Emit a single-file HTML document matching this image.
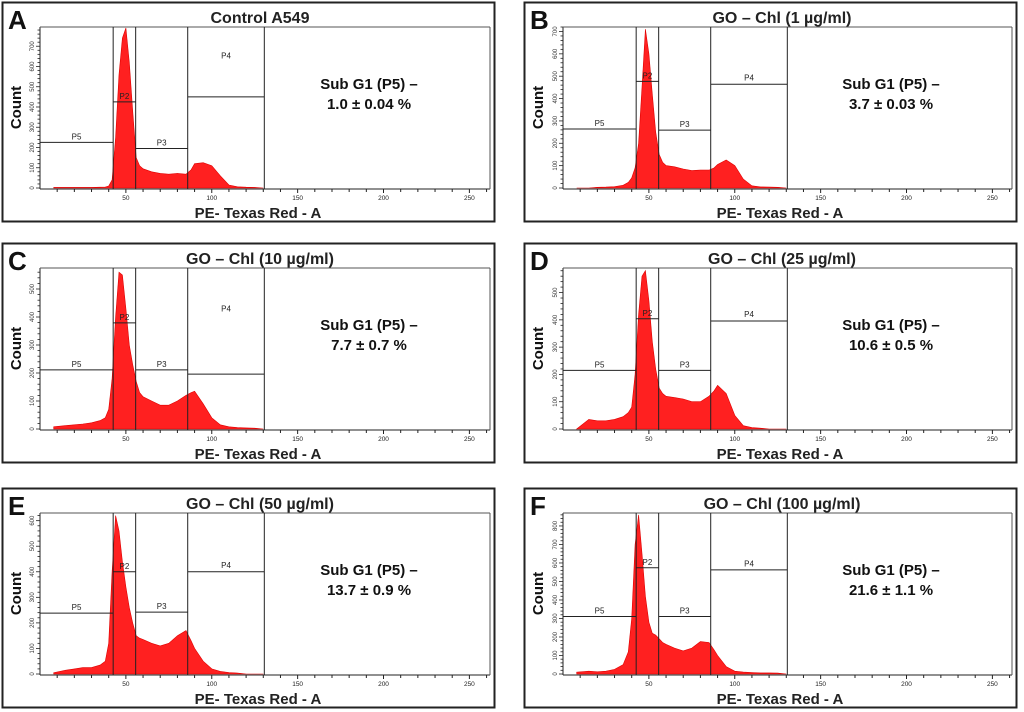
<!DOCTYPE html>
<html><head><meta charset="utf-8">
<style>
html,body{margin:0;padding:0;background:#fff;width:1024px;height:712px;overflow:hidden}
svg{display:block}
text{font-family:"Liberation Sans",Arial,sans-serif}
</style></head>
<body>
<svg id="fig" width="1024" height="712" viewBox="0 0 1024 712"></svg>
<script>
// ---- data ----
const bins = [8,15,20,25,30,35,38,40,42,44,46,48,50,52,54,56,58,60,65,70,75,80,85,88,90,95,100,105,110,115,120,125,130];
const countsA = [3,3,3,3,3,4,5,10,40,250,560,740,790,620,380,150,110,95,80,72,68,72,68,90,120,125,110,60,15,6,4,3,0];
const countsB = [0,0,3,4,6,12,25,45,90,200,450,710,600,420,250,150,115,100,95,85,78,80,80,90,105,125,100,40,10,5,4,3,0];
const countsC = [8,12,15,18,22,30,40,70,180,400,560,550,430,300,230,170,130,115,100,85,85,100,120,130,135,90,40,15,8,5,4,3,0];
const countsD = [0,35,30,30,35,45,60,80,200,420,560,580,470,320,220,150,130,120,115,110,100,100,120,140,160,130,50,12,5,3,0,0,0];
const countsE = [5,15,20,25,25,35,50,120,400,620,560,440,340,260,200,150,140,135,120,110,120,150,170,130,100,50,20,10,6,4,0,0,0];
const countsF = [10,15,12,15,25,50,120,300,700,860,650,420,280,220,210,190,170,160,140,125,140,175,170,130,100,40,15,10,8,6,6,5,0];
const yMaxes = [795,720,575,590,630,870];
const titles = ["Control A549","GO \u2013 Chl (1 \u00b5g/ml)","GO \u2013 Chl (10 \u00b5g/ml)","GO \u2013 Chl (25 \u00b5g/ml)","GO \u2013 Chl (50 \u00b5g/ml)","GO \u2013 Chl (100 \u00b5g/ml)"];
const letters = ["A","B","C","D","E","F"];
const subG1 = ["1.0 \u00b1 0.04 %","3.7 \u00b1 0.03 %","7.7 \u00b1 0.7 %","10.6 \u00b1 0.5 %","13.7 \u00b1 0.9 %","21.6 \u00b1 1.1 %"];
const gateX = [0,42.6,55.7,86,130.6];
const p5Levels = [225,264,211,215,238,311];
const p2Levels = [425,477,379,404,400,574];
const p3Levels = [195,259,211,215,242,311];
const p4Levels = [450,464,196,396,400,563];
const p4LabelCounts = [640,480,420,410,415,580];
const xTickLabels = [50,100,150,200,250];
const allCounts = [countsA,countsB,countsC,countsD,countsE,countsF];

const NS = "http://www.w3.org/2000/svg";
const svg = document.getElementById("fig");
function mk(tag, attrs, parent, txt){
  const e = document.createElementNS(NS, tag);
  for (const k in attrs) e.setAttribute(k, attrs[k]);
  if (txt !== undefined) e.textContent = txt;
  (parent||svg).appendChild(e);
  return e;
}
const panelPos = [[2,2],[524,2],[2,243],[524,243],[2,488],[524,488]];
const PW = 493, PH = 220;

panelPos.forEach((p, i) => {
  const [px, py] = p;
  const g = mk("g", {});
  
  
  const box = mk("rect", {x:px+0.5, y:py+0.5, width:PW-1, height:PH-1, fill:"none", stroke:"#222", "stroke-width":2}, g);
  
  

  const L = px + 38 + (i%2), R = px + 488, T = py + 25, B = py + 186;
  const xs = v => L + v * (450 / 262);
  const ys = v => B - v * ((B - T) / yMaxes[i]);

  // histogram
  const c = allCounts[i];
  let d = "M" + xs(bins[0]) + "," + B;
  bins.forEach((b, k) => { d += " L" + xs(b).toFixed(1) + "," + ys(c[k]).toFixed(1); });
  d += " L" + xs(bins[bins.length-1]) + "," + B + " Z";
  const hist = mk("path", {d:d, fill:"#ff2020", stroke:"#e00000", "stroke-width":0.6}, g);
  
  

  // axes / frame
  mk("line", {x1:L, y1:T, x2:L, y2:B+1, stroke:"#222", "stroke-width":1}, g);
  mk("line", {x1:L, y1:B+1, x2:R, y2:B+1, stroke:"#222", "stroke-width":1}, g);
  mk("line", {x1:R, y1:T, x2:R, y2:B+1, stroke:"#555", "stroke-width":1}, g);
  mk("line", {x1:L, y1:T, x2:R, y2:T, stroke:"#555", "stroke-width":1}, g);
  for (let v = 10; v <= 260; v += 10) {
    const big = v % 50 === 0;
    mk("line", {x1:xs(v), y1:B+1, x2:xs(v), y2:B+(big?5:4), stroke:"#222", "stroke-width":1}, g);
  }
  xTickLabels.forEach(v => {
    const t = mk("text", {x:xs(v), y:B+12, "font-size":6.5, "text-anchor":"middle", fill:"#222"}, g, String(v));
    
    
  });
  for (let v = 0; v <= yMaxes[i]; v += 20) {
    const big = v % 100 === 0;
    mk("line", {x1:L-(big?4:2.5), y1:ys(v), x2:L, y2:ys(v), stroke:"#222", "stroke-width":0.8}, g);
    if (big) {
      const t = mk("text", {x:0, y:0, "font-size":6, "text-anchor":"middle", fill:"#333",
        transform:"translate(" + (L-6) + "," + ys(v) + ") rotate(-90)"}, g, String(v));
      
      
    }
  }

  // gates
  const gs = {stroke:"#222", "stroke-width":1, fill:"none"};
  [1,2,3,4].forEach(k => mk("line", Object.assign({x1:xs(gateX[k]), y1:T, x2:xs(gateX[k]), y2:B+1}, gs), g));
  const lv = [[0,1,p5Levels[i]],[1,2,p2Levels[i]],[2,3,p3Levels[i]],[3,4,p4Levels[i]]];
  lv.forEach(([a,b,l]) => mk("line", Object.assign({x1:xs(gateX[a]), y1:ys(l), x2:xs(gateX[b]), y2:ys(l)}, gs), g));
  const glabels = [["P5",0,1,ys(p5Levels[i])-3],["P2",1,2,ys(p2Levels[i])-3],["P3",2,3,ys(p3Levels[i])-3],["P4",3,4,ys(p4LabelCounts[i])]];
  glabels.forEach(([n,a,b,y]) => {
    const t = mk("text", {x:(xs(gateX[a])+xs(gateX[b]))/2, y:y, "font-size":8, "text-anchor":"middle", fill:"#222"}, g, n);
    
    
  });

  // texts
  const lt = mk("text", {x:px+6, y:py+27, "font-size":26, "font-weight":"bold", fill:"#111"}, g, letters[i]);
  
  
  const tt = mk("text", {x:px+258, y:py+21, "font-size":16, "font-weight":"bold", "text-anchor":"middle", fill:"#222"}, g, titles[i]);
  
  
  const yl = mk("text", {x:0, y:0, "font-size":15, "font-weight":"bold", "text-anchor":"middle", fill:"#111",
    transform:"translate(" + (px+19) + "," + ((T+B)/2) + ") rotate(-90)"}, g, "Count");
  
  
  const xl = mk("text", {x:px+256, y:py+216, "font-size":15, "font-weight":"bold", "text-anchor":"middle", fill:"#222"}, g, "PE- Texas Red - A");
  
  
  const s1 = mk("text", {x:px+367, y:py+87, "font-size":15, "font-weight":"bold", "text-anchor":"middle", fill:"#111"}, g, "Sub G1 (P5) \u2013");
  
  
  const s2 = mk("text", {x:px+367, y:py+107, "font-size":15, "font-weight":"bold", "text-anchor":"middle", fill:"#111"}, g, subG1[i]);
  
  
});
</script>
</body></html>
